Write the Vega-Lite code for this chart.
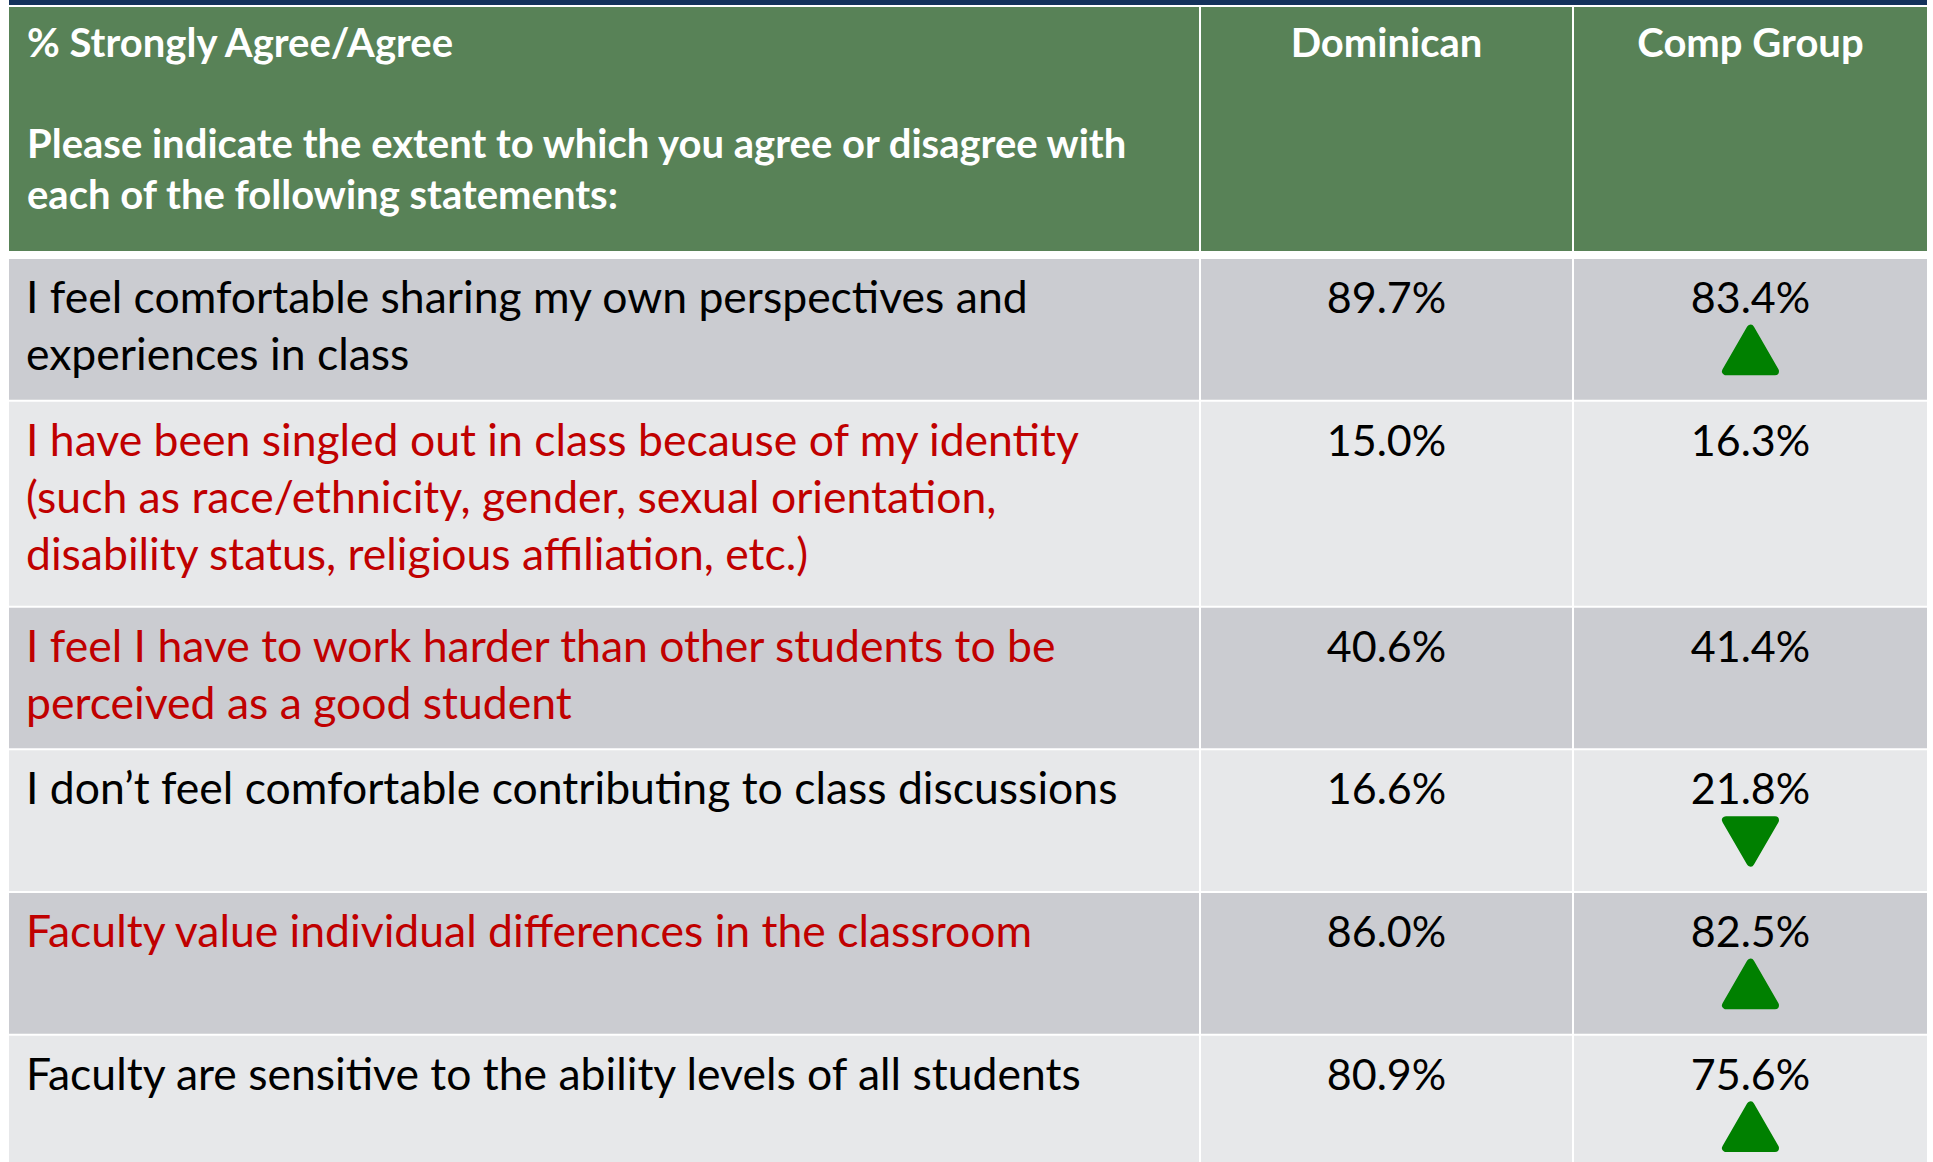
{
  "$schema": "https://vega.github.io/schema/vega-lite/v6.json",
  "background": "white",
  "padding": {"left": 9, "top": 0, "right": 0, "bottom": 0},
  "config": {
    "view": {"stroke": null},
    "text": {"font": "Lato"}
  },
  "datasets": {
    "rows": [
      {"order": 1, "statement": ["I feel comfortable sharing my own perspectives and", "experiences in class"], "dominican": 0.897, "comp": 0.834, "flagged": false, "sig": "higher"},
      {"order": 2, "statement": ["I have been singled out in class because of my identity", "(such as race/ethnicity, gender, sexual orientation,", "disability status, religious affiliation, etc.)"], "dominican": 0.150, "comp": 0.163, "flagged": true, "sig": null},
      {"order": 3, "statement": ["I feel I have to work harder than other students to be", "perceived as a good student"], "dominican": 0.406, "comp": 0.414, "flagged": true, "sig": null},
      {"order": 4, "statement": ["I don’t feel comfortable contributing to class discussions"], "dominican": 0.166, "comp": 0.218, "flagged": false, "sig": "lower"},
      {"order": 5, "statement": ["Faculty value individual differences in the classroom"], "dominican": 0.860, "comp": 0.825, "flagged": true, "sig": "higher"},
      {"order": 6, "statement": ["Faculty are sensitive to the ability levels of all students"], "dominican": 0.809, "comp": 0.756, "flagged": false, "sig": "higher"}
    ],
    "header": [
      {"column": "statement", "label": "% Strongly Agree/Agree", "prompt": ["Please indicate the extent to which you agree or disagree with", "each of the following statements:"]},
      {"column": "dominican", "label": "Dominican", "prompt": null},
      {"column": "comp", "label": "Comp Group", "prompt": null}
    ]
  },
  "spacing": 8,
  "vconcat": [
    {
      "spacing": 2,
      "vconcat": [
        {
          "width": 1918, "height": 5,
          "data": {"values": [{}]},
          "mark": {"type": "rect", "fill": "#13315b"},
          "encoding": {}
        },
        {
          "spacing": 2,
          "hconcat": [
            {
              "width": 1190, "height": 244,
              "data": {"name": "header"},
              "transform": [{"filter": "datum.column === 'statement'"}],
              "layer": [
                {"mark": {"type": "rect", "fill": "#588257"}, "encoding": {}},
                {"mark": {"type": "text", "align": "left", "baseline": "alphabetic", "dx": 18, "dy": 50, "fontSize": 40, "fontWeight": "bold", "fill": "white"},
                 "encoding": {"x": {"value": 0}, "y": {"value": 0}, "text": {"field": "label"}}},
                {"mark": {"type": "text", "align": "left", "baseline": "alphabetic", "dx": 18, "dy": 151, "fontSize": 40, "fontWeight": "bold", "fill": "white", "lineHeight": 51},
                 "encoding": {"x": {"value": 0}, "y": {"value": 0}, "text": {"field": "prompt"}}}
              ]
            },
            {
              "width": 371, "height": 244,
              "data": {"name": "header"},
              "transform": [{"filter": "datum.column === 'dominican'"}],
              "layer": [
                {"mark": {"type": "rect", "fill": "#588257"}, "encoding": {}},
                {"mark": {"type": "text", "align": "center", "baseline": "alphabetic", "dy": 50, "fontSize": 40, "fontWeight": "bold", "fill": "white"},
                 "encoding": {"y": {"value": 0}, "text": {"field": "label"}}}
              ]
            },
            {
              "width": 353, "height": 244,
              "data": {"name": "header"},
              "transform": [{"filter": "datum.column === 'comp'"}],
              "layer": [
                {"mark": {"type": "rect", "fill": "#588257"}, "encoding": {}},
                {"mark": {"type": "text", "align": "center", "baseline": "alphabetic", "dy": 50, "fontSize": 40, "fontWeight": "bold", "fill": "white"},
                 "encoding": {"y": {"value": 0}, "text": {"field": "label"}}}
              ]
            }
          ]
        }
      ]
    },
    {
      "spacing": 2,
      "hconcat": [
        {
          "width": 1190, "height": 903,
          "data": {"name": "rows"},
          "transform": [
            {"calculate": "max(2, length(datum.statement))", "as": "span"},
            {"window": [{"op": "sum", "field": "span", "as": "cum"}], "sort": [{"field": "order"}], "frame": [null, 0]},
            {"calculate": "datum.cum - datum.span + (datum.order - 1) * 0.254", "as": "top"},
            {"calculate": "datum.top + datum.span + 0.254", "as": "bottom"}
          ],
          "layer": [
            {"mark": {"type": "rect", "clip": true, "y2Offset": -2},
             "encoding": {
               "y": {"field": "top", "type": "quantitative", "scale": {"domain": [0, 14.265], "reverse": true, "nice": false, "zero": false}, "axis": null},
               "y2": {"field": "bottom"},
               "fill": {"condition": {"test": "datum.order % 2 === 1", "value": "#cbccd1"}, "value": "#e7e8ea"}
             }},
            {"mark": {"type": "text", "align": "left", "baseline": "alphabetic", "dx": 17, "dy": 54, "fontSize": 44.5, "lineHeight": 57},
             "encoding": {
               "x": {"value": 0},
               "y": {"field": "top", "type": "quantitative", "scale": {"domain": [0, 14.265], "reverse": true, "nice": false, "zero": false}, "axis": null},
               "text": {"field": "statement"},
               "fill": {"condition": {"test": "datum.flagged", "value": "#c00000"}, "value": "#000000"}
             }}
          ]
        },
        {
          "width": 371, "height": 903,
          "data": {"name": "rows"},
          "transform": [
            {"calculate": "max(2, length(datum.statement))", "as": "span"},
            {"window": [{"op": "sum", "field": "span", "as": "cum"}], "sort": [{"field": "order"}], "frame": [null, 0]},
            {"calculate": "datum.cum - datum.span + (datum.order - 1) * 0.254", "as": "top"},
            {"calculate": "datum.top + datum.span + 0.254", "as": "bottom"}
          ],
          "layer": [
            {"mark": {"type": "rect", "clip": true, "y2Offset": -2},
             "encoding": {
               "y": {"field": "top", "type": "quantitative", "scale": {"domain": [0, 14.265], "reverse": true, "nice": false, "zero": false}, "axis": null},
               "y2": {"field": "bottom"},
               "fill": {"condition": {"test": "datum.order % 2 === 1", "value": "#cbccd1"}, "value": "#e7e8ea"}
             }},
            {"mark": {"type": "text", "align": "center", "baseline": "alphabetic", "dy": 54, "fontSize": 43, "fill": "#000000"},
             "encoding": {
               "y": {"field": "top", "type": "quantitative", "scale": {"domain": [0, 14.265], "reverse": true, "nice": false, "zero": false}, "axis": null},
               "text": {"field": "dominican", "type": "quantitative", "format": ".1%"}
             }}
          ]
        },
        {
          "width": 353, "height": 903,
          "data": {"name": "rows"},
          "transform": [
            {"calculate": "max(2, length(datum.statement))", "as": "span"},
            {"window": [{"op": "sum", "field": "span", "as": "cum"}], "sort": [{"field": "order"}], "frame": [null, 0]},
            {"calculate": "datum.cum - datum.span + (datum.order - 1) * 0.254", "as": "top"},
            {"calculate": "datum.top + datum.span + 0.254", "as": "bottom"}
          ],
          "layer": [
            {"mark": {"type": "rect", "clip": true, "y2Offset": -2},
             "encoding": {
               "y": {"field": "top", "type": "quantitative", "scale": {"domain": [0, 14.265], "reverse": true, "nice": false, "zero": false}, "axis": null},
               "y2": {"field": "bottom"},
               "fill": {"condition": {"test": "datum.order % 2 === 1", "value": "#cbccd1"}, "value": "#e7e8ea"}
             }},
            {"mark": {"type": "text", "align": "center", "baseline": "alphabetic", "dy": 54, "fontSize": 43, "fill": "#000000"},
             "encoding": {
               "y": {"field": "top", "type": "quantitative", "scale": {"domain": [0, 14.265], "reverse": true, "nice": false, "zero": false}, "axis": null},
               "text": {"field": "comp", "type": "quantitative", "format": ".1%"}
             }},
            {"transform": [{"filter": "datum.sig != null"}],
             "mark": {"type": "point", "filled": true, "size": 2400, "yOffset": 91, "fill": "#008000", "stroke": "#008000", "strokeWidth": 8, "strokeJoin": "round", "opacity": 1},
             "encoding": {
               "y": {"field": "top", "type": "quantitative", "scale": {"domain": [0, 14.265], "reverse": true, "nice": false, "zero": false}, "axis": null},
               "shape": {"field": "sig", "type": "nominal", "scale": {"domain": ["higher", "lower"], "range": ["triangle-up", "triangle-down"]}, "legend": null}
             }}
          ]
        }
      ]
    }
  ]
}
